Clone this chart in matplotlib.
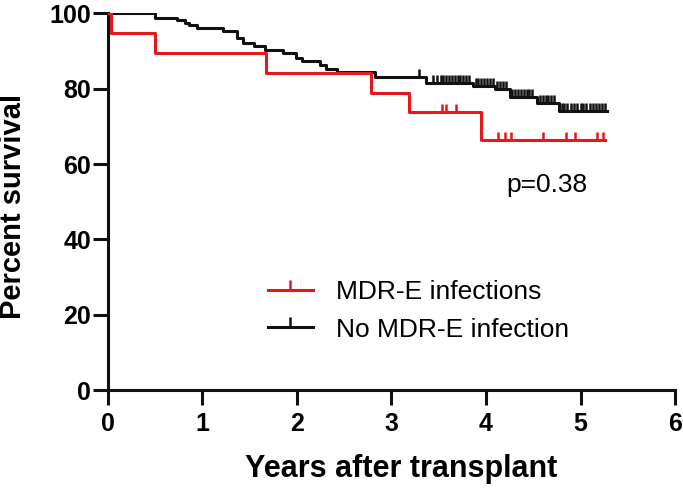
import matplotlib
matplotlib.use("Agg")
import matplotlib.pyplot as plt
from matplotlib.lines import Line2D

plt.rcParams['font.family'] = ['Liberation Sans', 'DejaVu Sans']

RED = '#e3191c'
BLACK = '#111111'

# MDR-E infections: step times (years) and survival after each step (%)
red_times = [0, 0.03, 0.50, 1.67, 2.78, 3.18, 3.95, 5.26]
red_surv = [100, 94.7, 89.5, 84.2, 78.9, 73.7, 66.5, 66.5]
red_cens = [3.53, 3.58, 3.68, 4.13, 4.20, 4.26, 4.60, 4.85, 4.94, 5.17, 5.24]

# No MDR-E infection
blk_times = [0, 0.50, 0.73, 0.82, 0.86, 0.94, 1.22, 1.37, 1.43, 1.55, 1.66,
             1.85, 1.99, 2.05, 2.24, 2.31, 2.42, 2.83, 3.37, 3.86, 4.09, 4.25,
             4.54, 4.77, 5.28]
blk_surv = [100, 98.9, 98.2, 97.5, 96.9, 96.2, 95.3, 93.5, 92.2, 91.3, 90.4,
            89.4, 88.2, 87.3, 86.4, 85.1, 84.4, 83.1, 81.6, 80.7, 79.8, 77.7,
            76.2, 74.0, 74.0]
blk_cens = [3.29, 3.44, 3.48, 3.52, 3.55, 3.58, 3.61, 3.64, 3.67, 3.70, 3.73,
            3.76, 3.79, 3.82, 3.89, 3.92, 3.95, 3.98, 4.01, 4.04, 4.07,
            4.12, 4.15, 4.18, 4.21, 4.28, 4.31, 4.34, 4.37, 4.40, 4.43, 4.46,
            4.49, 4.57, 4.60, 4.63, 4.66, 4.69, 4.72, 4.80, 4.83, 4.86, 4.90,
            4.93, 4.96, 5.00, 5.03, 5.06, 5.10, 5.13, 5.16, 5.20, 5.23, 5.26]


def level_at(times, surv, t):
    s = surv[0]
    for ti, si in zip(times, surv):
        if ti <= t:
            s = si
    return s


fig = plt.figure(figsize=(6.83, 4.93), dpi=100)
ax = fig.add_axes([0.1581, 0.2089, 0.8302, 0.764])

lw = 2.2
ms = 6
ax.step(blk_times, blk_surv, where='post', color=BLACK, lw=lw, zorder=3)
ax.plot(blk_cens, [level_at(blk_times, blk_surv, t) for t in blk_cens],
        ls='none', marker=2, ms=ms, mew=1.8, color=BLACK, zorder=3)
ax.step(red_times, red_surv, where='post', color=RED, lw=lw, zorder=4)
ax.plot(red_cens, [level_at(red_times, red_surv, t) for t in red_cens],
        ls='none', marker=2, ms=ms, mew=1.8, color=RED, zorder=4)

ax.set_xlim(0, 6)
ax.set_ylim(0, 100)
ax.set_xticks(range(0, 7))
ax.set_yticks(range(0, 101, 20))
for s in ['top', 'right']:
    ax.spines[s].set_visible(False)
for s in ['left', 'bottom']:
    ax.spines[s].set_linewidth(2.2)
    ax.spines[s].set_color(BLACK)
    ax.spines[s].set_clip_on(False)
ax.tick_params(direction='out', length=10.5, width=2.2, labelsize=18, color=BLACK)
ax.tick_params(axis='x', pad=5)
ax.tick_params(axis='y', pad=1.5)
for lab in ax.get_xticklabels() + ax.get_yticklabels():
    lab.set_fontweight('bold')

ax.set_xlabel('Years after transplant', fontsize=22, fontweight='bold', va='center')
ax.xaxis.set_label_coords(0.5168, -0.2097)
ax.set_ylabel('Percent survival', fontsize=21, fontweight='bold', va='center')
ax.yaxis.set_label_coords(-0.1676, 0.488)

ax.text(4.64, 54.3, 'p=0.38', fontsize=19, ha='center', va='center')

handles = [Line2D([], [], color=RED, lw=lw, marker=2, ms=ms + 1, mew=1.8),
           Line2D([], [], color=BLACK, lw=lw, marker=2, ms=ms + 1, mew=1.8)]
ax.legend(handles, ['MDR-E infections', 'No MDR-E infection'], loc='center left',
          bbox_to_anchor=(0.282, 0.21), frameon=False, fontsize=19, numpoints=1,
          handlelength=1.7, handletextpad=0.9, labelspacing=0.5, borderpad=0,
          borderaxespad=0)

fig.savefig('out.png', dpi=100)
